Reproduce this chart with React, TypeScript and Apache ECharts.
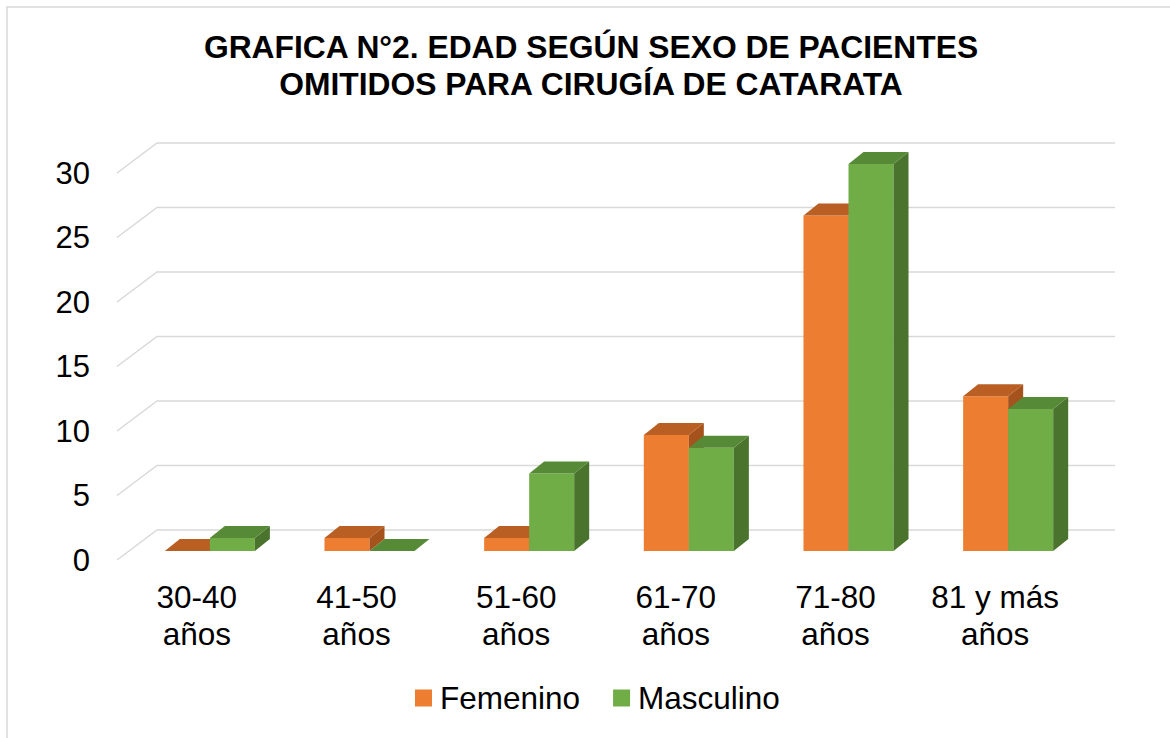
import React, { useEffect, useRef } from "react";
import * as echarts from "echarts";

const categories = ["30-40\naños", "41-50\naños", "51-60\naños", "61-70\naños", "71-80\naños", "81 y más\naños"];
const femenino = [0, 1, 1, 9, 26, 12];
const masculino = [1, 0, 6, 8, 30, 11];
const yTicks = [0, 5, 10, 15, 20, 25, 30];
const titleText = "GRAFICA N°2. EDAD SEGÚN SEXO DE PACIENTES\nOMITIDOS PARA CIRUGÍA DE CATARATA";

const FONT = "'Liberation Sans', Arial, sans-serif";

const DEPTH_X = 40;
const DEPTH_Y = -30;
const OFF_X = 13;
const OFF_Y = -9;
const BAR_DX = 15;
const BAR_DY = -12;

function barRenderer(side: "left" | "right", colors: { front: string; top: string; side: string }) {
  return (params: any, api: any) => {
    const i = api.value(0);
    const v = api.value(1);
    const top = api.coord([i, v]);
    const base = api.coord([i, 0]);
    const band = api.size([1, 0])[0];
    const bw = band * 0.282;
    const x0 = side === "left" ? top[0] + OFF_X - bw : top[0] + OFF_X;
    const x1 = x0 + bw;
    const yT = top[1] + OFF_Y;
    const yB = base[1] + OFF_Y;
    return {
      type: "group",
      children: [
        {
          type: "rect",
          shape: { x: x0, y: yT, width: bw, height: Math.max(0, yB - yT) },
          style: { fill: colors.front },
        },
        {
          type: "polygon",
          shape: {
            points: [
              [x1, yT],
              [x1 + BAR_DX, yT + BAR_DY],
              [x1 + BAR_DX, yB + BAR_DY],
              [x1, yB],
            ],
          },
          style: { fill: colors.side },
        },
        {
          type: "polygon",
          shape: {
            points: [
              [x0, yT],
              [x1, yT],
              [x1 + BAR_DX, yT + BAR_DY],
              [x0 + BAR_DX, yT + BAR_DY],
            ],
          },
          style: { fill: colors.top },
        },
      ],
    };
  };
}

export default function App() {
  const ref = useRef<HTMLDivElement>(null);
  useEffect(() => {
    if (!ref.current) return;
    const chart = echarts.init(ref.current, null, { renderer: "svg" });
    chart.setOption({
      animation: false,
      backgroundColor: "#ffffff",
      graphic: [
        {
          type: "rect",
          shape: { x: 7, y: 7, width: 1300, height: 900 },
          style: { fill: "none", stroke: "#D9D9D9", lineWidth: 1.5 },
          silent: true,
        },
        {
          type: "text",
          x: 591,
          y: 65.5,
          style: {
            text: titleText,
            font: `bold 31.8px ${FONT}`,
            fill: "#000000",
            textAlign: "center",
            textVerticalAlign: "middle",
            lineHeight: 37,
          },
        },
      ],
      legend: {
        data: ["Femenino", "Masculino"],
        top: 682,
        left: 415,
        icon: "rect",
        itemWidth: 17,
        itemHeight: 17,
        itemGap: 33,
        padding: 0,
        textStyle: { fontSize: 31.5, fontFamily: FONT, color: "#000000", padding: [0, 0, 0, 3] },
      },
      grid: { left: 117, top: 173, width: 958, height: 387 },
      xAxis: {
        type: "category",
        data: categories,
        axisLine: { show: false },
        axisTick: { show: false },
        splitLine: { show: false },
        axisLabel: {
          fontSize: 31.5,
          fontFamily: FONT,
          color: "#000000",
          lineHeight: 37,
          margin: 18,
          interval: 0,
        },
      },
      yAxis: {
        type: "value",
        min: 0,
        max: 30,
        interval: 5,
        axisLine: { show: false },
        axisTick: { show: false },
        splitLine: { show: false },
        axisLabel: { fontSize: 31, fontFamily: FONT, color: "#000000", margin: 27 },
      },
      series: [
        {
          type: "custom",
          name: "gridlines",
          z: 1,
          silent: true,
          data: yTicks.map((v) => [0, v]),
          encode: { x: 0, y: 1 },
          renderItem: (params: any, api: any) => {
            const p = api.coord([0, api.value(1)]);
            const cs = params.coordSys;
            return {
              type: "polyline",
              shape: {
                points: [
                  [cs.x, p[1]],
                  [cs.x + DEPTH_X, p[1] + DEPTH_Y],
                  [cs.x + cs.width + DEPTH_X, p[1] + DEPTH_Y],
                ],
              },
              style: { stroke: "#D9D9D9", lineWidth: 1.5, fill: "none" },
            };
          },
        },
        {
          type: "custom",
          name: "Femenino",
          z: 2,
          itemStyle: { color: "#ED7D31" },
          data: femenino.map((v, i) => [i, v]),
          encode: { x: 0, y: 1 },
          renderItem: barRenderer("left", { front: "#ED7D31", top: "#B95F24", side: "#A5521C" }),
        },
        {
          type: "custom",
          name: "Masculino",
          z: 3,
          itemStyle: { color: "#70AD47" },
          data: masculino.map((v, i) => [i, v]),
          encode: { x: 0, y: 1 },
          renderItem: barRenderer("right", { front: "#70AD47", top: "#578A36", side: "#4A732D" }),
        },
      ],
    });
    return () => chart.dispose();
  }, []);
  return (
    <div
      ref={ref}
      style={{ position: "fixed", left: 0, top: 0, width: 1170, height: 738 }}
    />
  );
}
